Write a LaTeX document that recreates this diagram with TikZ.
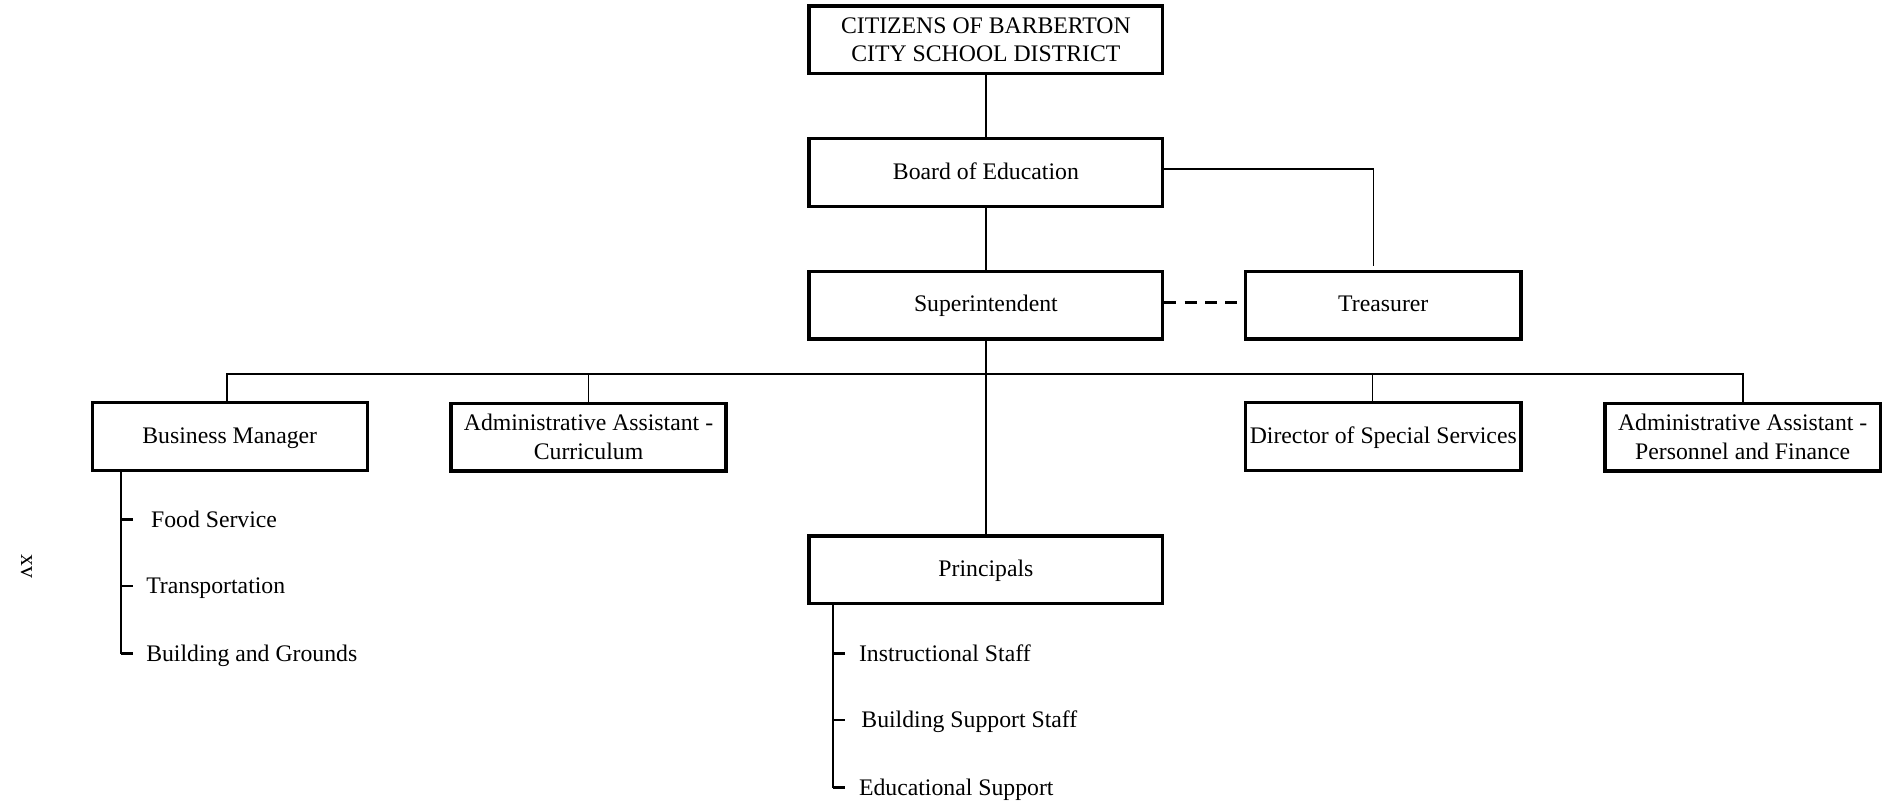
\documentclass[tikz,border=0pt]{standalone}
\usepackage{fontspec}
\setmainfont{Liberation Serif}
\usetikzlibrary{positioning,calc}
\tikzstyle{orgbox}=[draw,line width=2pt,minimum height=1.4cm,inner sep=0pt,align=center,font=\fontsize{14}{17}\selectfont]
\tikzstyle{one line}=[text height=0.85em,text depth=0.05em]
\tikzstyle{wide box}=[orgbox,minimum width=7.325cm]
\tikzstyle{narrow box}=[orgbox,minimum width=5.7cm]
\tikzstyle{sub item}=[anchor=base west,inner sep=0pt,font=\fontsize{14}{17}\selectfont]
\tikzstyle{link}=[line width=1pt]
\tikzstyle{tick}=[line width=1.6pt]

\begin{document}
\begin{tikzpicture}[x=0.025cm,y=-0.025cm]
  \useasboundingbox (0,0) rectangle (1568,667);
  \def\mid{817.5}
  \def\bus{310}
  % top of the chart
  \node[wide box] (citizens) at (\mid,33) {CITIZENS OF BARBERTON\\CITY SCHOOL DISTRICT};
  \node[wide box,one line] (board) at (\mid,143) {Board of Education};
  \node[wide box,one line] (supt) at (\mid,253) {Superintendent};
  \node[narrow box,one line] (treas) at (1147,253) {Treasurer};
  % second row
  \node[narrow box,one line] (busmgr) at (190.5,362) {Business Manager};
  \node[narrow box] (aacurr) at (488,362.5) {Administrative Assistant -\\Curriculum};
  \node[narrow box,one line] (dirss) at (1147,362) {Director of Special Services};
  \node[narrow box] (aapf) at (1445,362.5) {Administrative Assistant -\\Personnel and Finance};
  \node[wide box,one line] (principals) at (\mid,472.5) {Principals};
  \draw[link] (citizens) -- (board);
  \draw[link] (board) -- (supt);
  \draw[link] ($(board.east)+(0,-3)$) -| ($(treas.north)+(-8,-3)$);
  \draw[line width=1.5pt,dash pattern=on 7pt off 5pt] ($(supt.east)+(0,-2)$) -- ($(treas.west)+(0,-2)$);
  \draw[link] (supt) -- (principals);
  \draw[link] ($(busmgr.north)+(-2.5,0)$) |- (aapf.north |- 0,\bus) -- (aapf.north);
  \draw[link] (aacurr.north) -- (aacurr.north |- 0,\bus);
  \draw[link] ($(dirss.north)+(-9,0)$) -- ($(dirss.north |- 0,\bus)+(-9,0)$);
  % business manager list
  \node[sub item] (food) at (125,437.5) {Food Service};
  \node[sub item] (transp) at (121,492.5) {Transportation};
  \node[sub item] (grounds) at (121,548.5) {Building and Grounds};
  \draw[line width=1.2pt] (busmgr.south -| 100,0) -- (100,542);
  \foreach \y in {431,486,542} \draw[tick] (100,\y) -- ++(10,0);
  % principals list
  \node[sub item] (instr) at (712,548.5) {Instructional Staff};
  \node[sub item] (bsupport) at (714,603.5) {Building Support Staff};
  \node[sub item] (edsupport) at (712,659.5) {Educational Support};
  \draw[line width=1.2pt] (principals.south -| 691,0) -- (691,653);
  \foreach \y in {542,597,653} \draw[tick] (691,\y) -- ++(10,0);
  \node[rotate=-90,font=\fontsize{14}{17}\selectfont] (pagenum) at (22,470) {xv};
\end{tikzpicture}
\end{document}
